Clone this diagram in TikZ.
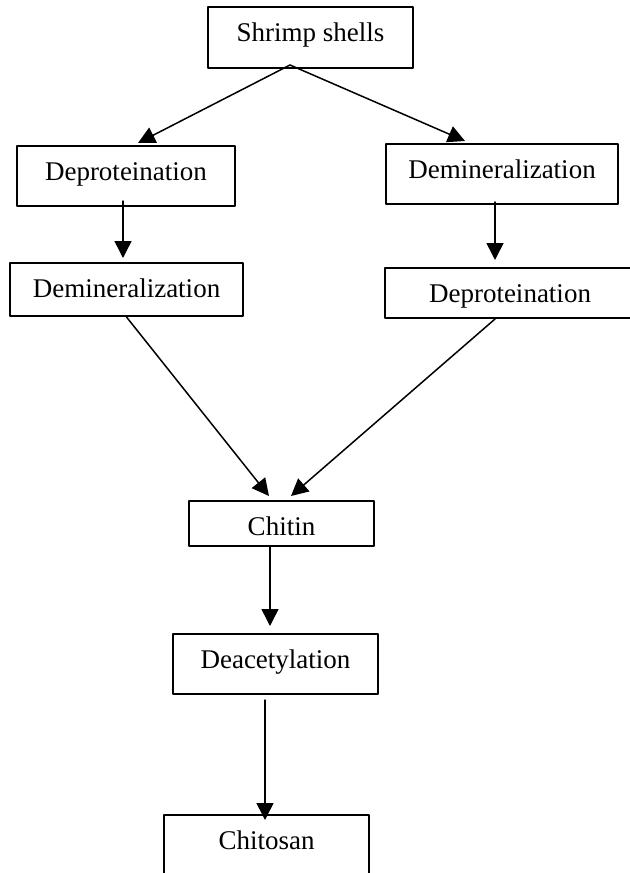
\documentclass[tikz,border=0pt]{standalone}
\usepackage{fontspec}
\setmainfont{Liberation Serif}
\usetikzlibrary{arrows.meta}

\tikzset{
  stage/.style={draw, line width=1pt, anchor=north west, inner xsep=0pt, inner ysep=0pt,
    text height=17pt, font=\fontsize{13.5}{16}\selectfont},
  flow/.style={-{Triangle[length=8.5pt,width=8.5pt]}, line width=0.75pt}
}

\begin{document}
\begin{tikzpicture}[x=0.5pt,y=-0.5pt,line cap=round,line join=round]
	\useasboundingbox (0,0) rectangle (630,873);
	\clip (0,0) rectangle (630,873);
	\node[stage, minimum width=102.5pt, text depth=13.5pt] (shrimp) at (207,6) {Shrimp shells};
	\node[stage, minimum width=109pt, text depth=13pt] (deprotL) at (16,145) {Deproteination};
	\node[stage, minimum width=116pt, text depth=13pt] (deminR) at (385,143) {Demineralization};
	\node[stage, minimum width=116.5pt, text depth=9.5pt] (deminL) at (9,262) {Demineralization};
	\node[stage, minimum width=125pt, text depth=8pt] (deprotR) at (384,267) {Deproteination};
	\node[stage, minimum width=92.5pt, text depth=5.5pt] (chitin) at (188,500) {Chitin};
	\node[stage, minimum width=102.5pt, text depth=13pt] (deacet) at (172,633) {Deacetylation};
	\node[stage, minimum width=102.5pt, text depth=60pt] (chitosan) at (163,814) {Chitosan};

	\draw[flow] ([xshift=-10.25pt,yshift=2pt]shrimp.south) -- ([xshift=6pt,yshift=1pt]deprotL.north);
	\draw[flow] ([xshift=-10.25pt,yshift=2pt]shrimp.south) -- ([xshift=-18.5pt,yshift=1pt]deminR.north);
	\draw[flow] ([xshift=-1.5pt,yshift=3pt]deprotL.south) -- ([xshift=-1.75pt,yshift=2pt]deminL.north);
	\draw[flow] ([xshift=-3.5pt,yshift=1.5pt]deminR.south) -- ([xshift=-7.5pt,yshift=3.5pt]deprotR.north);
	\draw[flow] (deminL.south) -- ([xshift=-6.25pt,yshift=2pt]chitin.north);
	\draw[flow] ([xshift=-7.5pt]deprotR.south) -- ([xshift=4.75pt,yshift=2pt]chitin.north);
	\draw[flow] ([xshift=-5.75pt]chitin.south) -- ([xshift=-2.75pt,yshift=3.5pt]deacet.north);
	\draw[flow] ([xshift=-5.25pt,yshift=-2.5pt]deacet.south) -- ([xshift=-0.75pt,yshift=-3pt]chitosan.north);
\end{tikzpicture}
\end{document}
